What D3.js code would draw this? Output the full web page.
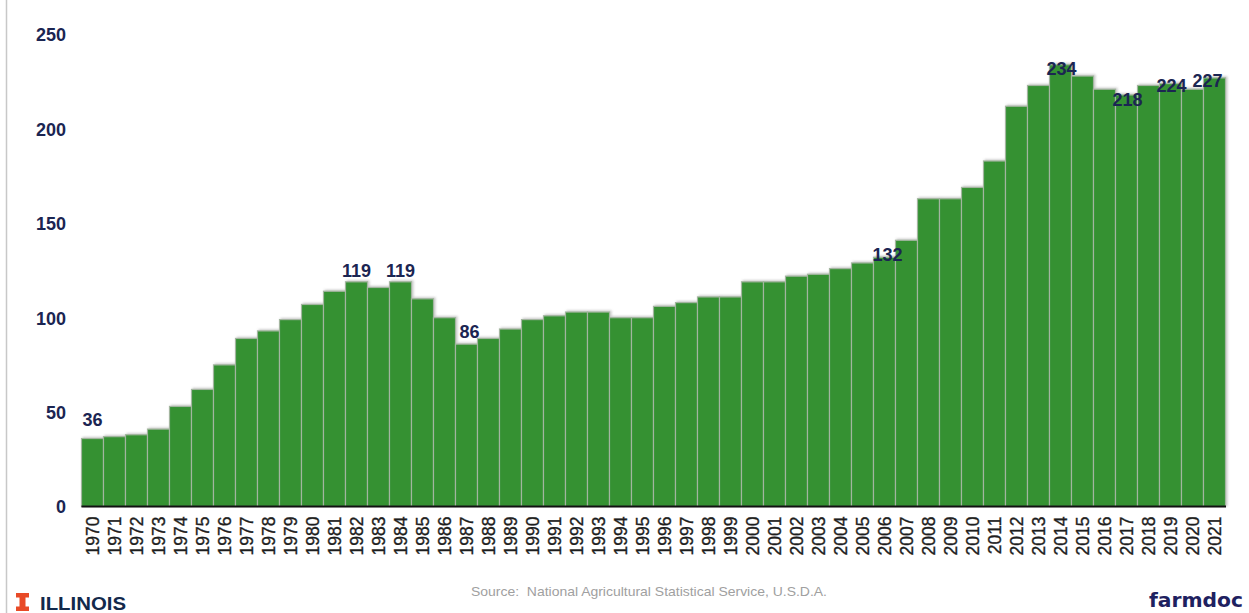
<!DOCTYPE html>
<html>
<head>
<meta charset="utf-8">
<script src="https://cdn.jsdelivr.net/npm/d3@7"></script>
<style>
  html, body { margin: 0; padding: 0; background: #fff; }
  svg { display: block; }
</style>
</head>
<body>
<svg id="chart" width="1249" height="613"></svg>
<script>
const years = [1970,1971,1972,1973,1974,1975,1976,1977,1978,1979,
  1980,1981,1982,1983,1984,1985,1986,1987,1988,1989,
  1990,1991,1992,1993,1994,1995,1996,1997,1998,1999,
  2000,2001,2002,2003,2004,2005,2006,2007,2008,2009,
  2010,2011,2012,2013,2014,2015,2016,2017,2018,2019,2020,2021];
const values = [36,37,38,41,53,62,75,89,93,99,
  107,114,119,116,119,110,100,86,89,94,
  99,101,103,103,100,100,106,108,111,111,
  119,119,122,123,126,129,132,141,163,163,
  169,183,212,223,234,228,221,218,223,224,221,227];
const yTicks = [0,50,100,150,200,250];
const labeledYears = [1970,1982,1984,1987,2006,2014,2017,2019,2021];
const sourceText = "Source:  National Agricultural Statistical Service, U.S.D.A.";

// label nudges (layout only)
const labelNudge = {1970:[0,-19],1982:[0,-11],1984:[0,-11],1987:[3,-12],2006:[3,-3],2014:[1,4],2017:[1,5],2019:[1,2],2021:[-7,2.5]};

const svg = d3.select("#chart");
const navy = "#1b2552";

const x = d3.scaleBand().domain(years).range([81.5, 1225.5]).padding(0);
const y = d3.scaleLinear().domain([0, 250]).range([506.5, 34.5]);

// left frame line
svg.append("line").attr("x1", 6.5).attr("x2", 6.5).attr("y1", 0).attr("y2", 613)
  .attr("stroke", "#c8c8c8").attr("stroke-width", 1.5);

// shadow filter
const defs = svg.append("defs");
const f = defs.append("filter").attr("id", "sh").attr("x", "-5%").attr("y", "-5%").attr("width", "110%").attr("height", "110%");
f.append("feDropShadow").attr("dx", 1.5).attr("dy", -1).attr("stdDeviation", 1.2).attr("flood-color", "#888").attr("flood-opacity", 0.45);

const data = years.map((yr, i) => ({year: yr, value: values[i]}));

svg.append("g").attr("filter", "url(#sh)")
  .selectAll("rect").data(data).join("rect")
  .attr("x", d => x(d.year))
  .attr("y", d => y(d.value))
  .attr("width", x.bandwidth())
  .attr("height", d => y(0) - y(d.value))
  .attr("fill", "#349133")
  .attr("stroke", "#a3b59f")
  .attr("stroke-width", 1.2);

// baseline
svg.append("line").attr("x1", 81.5).attr("x2", 1226).attr("y1", y(0)).attr("y2", y(0))
  .attr("stroke", "#111").attr("stroke-width", 2);

// y axis
const yAxis = d3.axisLeft(y).tickValues(yTicks).tickSize(0).tickPadding(0);
const gy = svg.append("g").attr("transform", "translate(66,0)").call(yAxis);
gy.select(".domain").remove();
gy.selectAll("text").attr("font-family", "Liberation Sans, Arial, sans-serif")
  .attr("font-weight", "bold").attr("font-size", 18).attr("fill", navy).attr("dy", "0.35em");

// x axis
const xAxis = d3.axisBottom(x).tickSize(0).tickPadding(0);
const gx = svg.append("g").attr("transform", `translate(0,${y(0)})`).call(xAxis);
gx.select(".domain").remove();
gx.selectAll("text")
  .attr("font-family", "Liberation Sans, Arial, sans-serif")
  .attr("font-size", 17.5).attr("fill", "#1e1e1e")
  .attr("stroke", "#1e1e1e").attr("stroke-width", 0.35)
  .attr("text-anchor", "end")
  .attr("transform", "translate(0,10) rotate(-90)")
  .attr("x", 0).attr("y", 0).attr("dx", 0).attr("dy", "0.36em");

// data labels
svg.append("g").selectAll("text")
  .data(data.filter(d => labeledYears.includes(d.year))).join("text")
  .attr("x", d => x(d.year) + x.bandwidth() / 2 + labelNudge[d.year][0])
  .attr("y", d => y(d.value) + labelNudge[d.year][1])
  .attr("dy", "0.35em")
  .attr("text-anchor", "middle")
  .attr("font-family", "Liberation Sans, Arial, sans-serif")
  .attr("font-weight", "bold").attr("font-size", 18).attr("fill", navy)
  .text(d => d.value);

// source
svg.append("text").attr("x", 471).attr("y", 596)
  .attr("font-family", "Liberation Sans Narrow, Arial Narrow, sans-serif")
  .attr("font-size", 13.5).attr("fill", "#a0a0a0")
  .attr("textLength", 356).attr("lengthAdjust", "spacingAndGlyphs")
  .attr("xml:space", "preserve")
  .text(sourceText);

// Illinois logo
const logo = svg.append("g");
logo.append("path")
  .attr("d", "M16,593 h13 v4.5 h-3.5 v9 h3.5 v4.5 h-13 v-4.5 h3.5 v-9 h-3.5 z")
  .attr("fill", "#e84a27");
logo.append("text").attr("x", 40).attr("y", 609.5)
  .attr("font-family", "Liberation Sans, Arial, sans-serif")
  .attr("font-weight", "bold").attr("font-size", 18).attr("fill", "#13294b")
  .attr("textLength", 86).attr("lengthAdjust", "spacingAndGlyphs")
  .text("ILLINOIS");

// farmdoc
svg.append("text").attr("x", 1149).attr("y", 607)
  .attr("font-family", "DejaVu Sans, sans-serif")
  .attr("font-weight", "bold").attr("font-size", 20).attr("fill", "#1e2160")
  .attr("textLength", 94).attr("lengthAdjust", "spacingAndGlyphs")
  .text("farmdoc");
</script>
</body>
</html>
